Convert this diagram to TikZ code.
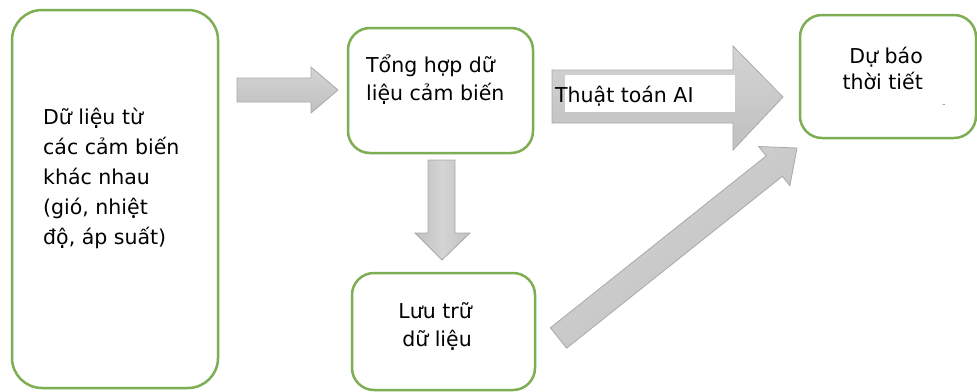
\documentclass[tikz,border=0pt]{standalone}
\usepackage{fontspec}
\setmainfont{DejaVu Sans}
\definecolor{boxgreen}{HTML}{7EAE54}
\definecolor{arrowedge}{HTML}{A9A9A9}
\definecolor{arrowlight}{HTML}{D4D4D4}
\definecolor{arrowdark}{HTML}{C0C0C0}
\begin{document}
\begin{tikzpicture}[x=1pt,y=-1pt,
  box/.style={draw=boxgreen, line width=2.5pt, fill=white, inner sep=0pt, rounded corners=22pt},
  txt/.style={inner sep=0pt, text=black},
  blockarrow/.style={draw=arrowedge, line width=0.8pt, top color=arrowlight, bottom color=arrowdark},
]
\useasboundingbox (0,0) rectangle (977,391);

% boxes
\node[box, rounded corners=30pt, minimum width=206pt, minimum height=378pt] (sensors) at (115,199) {};
\node[box, minimum width=185pt, minimum height=125pt] (merge) at (440.5,90.5) {};
\node[box, minimum width=183pt, minimum height=117pt] (store) at (443.5,331.5) {};
\node[box, minimum width=176pt, minimum height=123pt] (forecast) at (888,76.5) {};

% box texts (base anchor sits on the last line)
\node[txt, anchor=base west, align=left, font=\fontsize{20.5}{30}\selectfont] (sensorstext) at (43,244)
  {Dữ liệu từ\\các cảm biến\\khác nhau\\(gió, nhiệt\\độ, áp suất)};
\node[txt, anchor=base west, align=left, font=\fontsize{20.5}{28}\selectfont] (mergetext) at (366,100)
  {Tổng hợp dữ\\liệu cảm biến};
\node[txt, anchor=base east, align=right, font=\fontsize{20.5}{28}\selectfont] (storetext) at (472,346)
  {Lưu trữ\\dữ liệu};
\node[txt, anchor=base east, align=right, font=\fontsize{20.5}{26}\selectfont] (forecasttext) at (923,89)
  {Dự báo\\thời tiết};
\node[txt, text=gray, font=\fontsize{9}{9}\selectfont] (mark) at (944,106) {-};

% block arrows
\draw[blockarrow] (237,78) -- (311,78) -- (311,67) -- (338,90) -- (311,113) -- (311,102) -- (237,102) -- cycle;
\draw[blockarrow, left color=arrowdark, right color=arrowdark, middle color=arrowlight]
  (428,160) -- (455,160) -- (455,233) -- (470,233) -- (442,260) -- (415,233) -- (428,233) -- cycle;
\draw[blockarrow] (552,70) -- (733,70) -- (733,46) -- (783,97) -- (733,150) -- (733,123) -- (552,123) -- cycle;
\draw[blockarrow, shading angle=38]
  (550.4,327.8) -- (766.2,155.9) -- (758.7,146.5) -- (797,148) -- (789.9,185.7) -- (782.4,176.3) -- (566.6,348.2) -- cycle;

% label on the algorithm arrow
\fill[white] (565,75) rectangle (735,112);
\node[txt, anchor=base west, font=\fontsize{20.5}{26}\selectfont] (ailabel) at (555,102) {Thuật toán AI};
\end{tikzpicture}
\end{document}
